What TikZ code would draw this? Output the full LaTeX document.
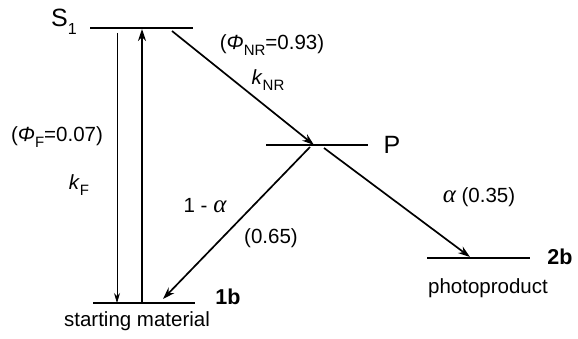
\documentclass[tikz,border=0pt]{standalone}
\usepackage{fontspec}
\setmainfont{Liberation Sans}
\newfontfamily\greekserif{Liberation Serif}
\usetikzlibrary{arrows.meta}
\newcommand{\lowsub}[1]{\raisebox{-0.3em}{\fontsize{15}{15}\selectfont #1}}
\newcommand{\alp}{{\greekserif\itshape\fontsize{25}{25}\selectfont α}}
\begin{document}
\begin{tikzpicture}[x=1pt,y=1pt,
  level/.style={line width=1.9pt},
  trans/.style={line width=1.7pt,-{Stealth[length=12pt,width=8pt]}},
  fluo/.style={line width=0.8pt,-{Stealth[length=10pt,width=6pt]}},
  lbl/.style={inner sep=0pt,font=\fontsize{20.5}{20.5}\selectfont},
  big/.style={inner sep=0pt,font=\fontsize{25}{25}\selectfont},
  bold/.style={inner sep=0pt,font=\fontsize{21.5}{21.5}\selectfont\bfseries}]
\useasboundingbox (0,0) rectangle (578,338);
% levels
\coordinate (S1l) at (90,310); \coordinate (S1r) at (193,310);
\coordinate (Pl) at (266,193); \coordinate (Pr) at (368,193);
\coordinate (Gl) at (93,35); \coordinate (Gr) at (195,35);
\coordinate (Bl) at (427,80); \coordinate (Br) at (530,80);
\draw[level] (S1l) -- (S1r);
\draw[level] (Pl) -- (Pr);
\draw[level] (Gl) -- (Gr);
\draw[level] (Bl) -- (Br);
% level labels
\node[big] (s1) at (64,316) {S\raisebox{-0.3em}{\fontsize{16}{16}\selectfont 1}};
\node[big] (p) at (392,193) {P};
\node[bold] (b1) at (228,41) {1b};
\node[bold] (b2) at (560,81) {2b};
\node[lbl] (sm) at (137,17) {starting material};
\node[lbl] (pp) at (488,50) {photoproduct};
% arrow end points
\coordinate (fT) at (117,305); \coordinate (fB) at (117,35);
\coordinate (aB) at (142,35); \coordinate (aT) at (142,309);
\coordinate (nA) at (172,307); \coordinate (nB) at (314,193);
\coordinate (rA) at (310,191); \coordinate (rB) at (163,39);
\coordinate (qA) at (324,190); \coordinate (qB) at (470,81);
\draw[fluo] (fT) -- (fB);
\draw[trans] (aB) -- (aT);
\draw[trans] (nA) -- (nB);
\draw[trans] (rA) -- (rB);
\draw[trans] (qA) -- (qB);
% transition labels
\node[lbl] (phiF) at (57,201) {(\textit{Φ}\lowsub{F}=0.07)};
\node[lbl] (kF) at (79,153) {\textit{k}\lowsub{F}};
\node[lbl] (phiNR) at (272,293) {(\textit{Φ}\lowsub{NR}=0.93)};
\node[lbl] (kNR) at (268,258) {\textit{k}\lowsub{NR}};
\node[lbl] (oma) at (205,132) {1 - \alp};
\node[lbl] (v65) at (271,100) {(0.65)};
\node[lbl] (v35) at (479,141) {\alp\ (0.35)};
\end{tikzpicture}
\end{document}
